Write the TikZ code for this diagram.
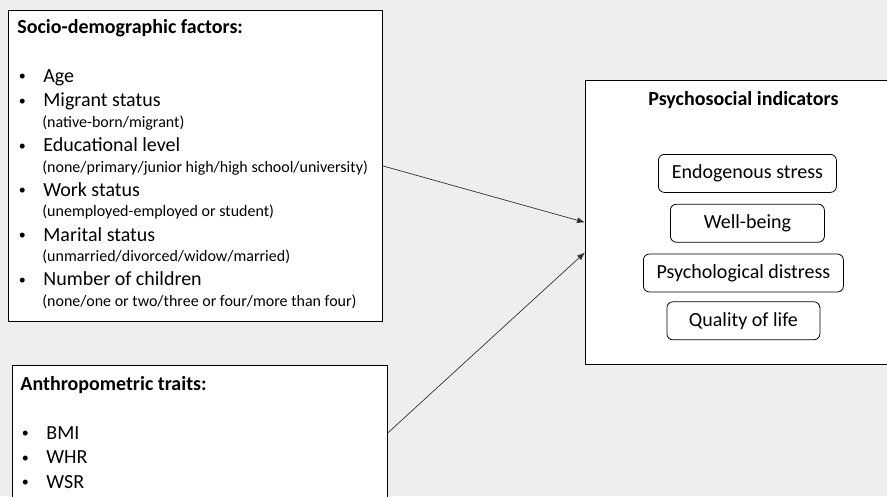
\documentclass[tikz,border=0pt]{standalone}
\usepackage{fontspec}
\setmainfont{Carlito}
\usepackage{tikz}
\usetikzlibrary{shapes,arrows,arrows.meta,positioning}

\definecolor{slidegray}{HTML}{EEEEEE}
\definecolor{linegray}{HTML}{333333}

\newcommand{\bigtxt}{\fontsize{20}{24.3}\selectfont}
\newcommand{\smalltxt}{\fontsize{16}{20.5}\selectfont}
\newcommand{\bitem}[1]{{\bigtxt\makebox[26pt][l]{\hspace{1.5pt}\raisebox{1.5pt}{\fontsize{14}{14}\selectfont\textbullet}}#1\par}}
\newcommand{\bdetail}[1]{{\smalltxt\hspace*{25pt}#1\par}}

\tikzset{
	factorbox/.style={rectangle, draw=black, fill=white, line width=0.8pt, inner sep=0pt, anchor=north west},
	indicator/.style={rectangle, rounded corners=6pt, draw=black, fill=white, line width=0.8pt, minimum height=38pt, inner sep=0pt, font=\bigtxt},
	link/.style={draw=linegray, line width=0.7pt, -{Latex[length=8pt,width=6pt]}}
}

\begin{document}
\begin{tikzpicture}[x=1pt,y=-1pt]
	\clip (0,0) rectangle (887,496);
	\fill [slidegray] (0,0) rectangle (887,496);

	\node [factorbox] (socio) at (8,10) {%
		\begin{minipage}[t][311pt][t]{374pt}%
		\raggedright\leftskip=9pt
		{\bigtxt\bfseries\rule{0pt}{23pt}Socio-demographic factors:\par}
		\vspace{24.7pt}
		\bitem{Age}
		\bitem{Migrant status}
		\bdetail{(native-born/migrant)}
		\bitem{Educational level}
		\bdetail{(none/primary/junior high/high school/university)}
		\bitem{Work status}
		\bdetail{(unemployed-employed or student)}
		\bitem{Marital status}
		\bdetail{(unmarried/divorced/widow/married)}
		\bitem{Number of children}
		\bdetail{(none/one or two/three or four/more than four)}
		\end{minipage}%
	};

	\node [factorbox] (anthro) at (12,365) {%
		\begin{minipage}[t][135pt][t]{375pt}%
		\raggedright\leftskip=8pt
		{\bigtxt\bfseries\rule{0pt}{25pt}Anthropometric traits:\par}
		\vspace{24.7pt}
		\bitem{BMI}
		\bitem{WHR}
		\bitem{WSR}
		\end{minipage}%
	};

	\node [factorbox, minimum width=316pt, minimum height=284pt] (indic) at (585,80) {};
	\node [font=\bigtxt\bfseries, anchor=base] (indtitle) at ([yshift=-25pt]indic.north) {Psychosocial indicators};

	\node [indicator, minimum width=178pt, below=49pt of indtitle.base, xshift=4pt] (endo) {Endogenous stress};
	\node [indicator, minimum width=154pt, below=11pt of endo] (well) {Well-being};
	\node [indicator, minimum width=200pt, below=11pt of well, xshift=-4pt] (distress) {Psychological distress};
	\node [indicator, minimum width=153pt, below=9pt of distress] (qol) {Quality of life};

	\coordinate (lowin) at ([yshift=-30pt]indic.west);
	\draw [link] (socio.east) -- (indic.west);
	\draw [link] (anthro.east) -- (lowin);
\end{tikzpicture}
\end{document}
